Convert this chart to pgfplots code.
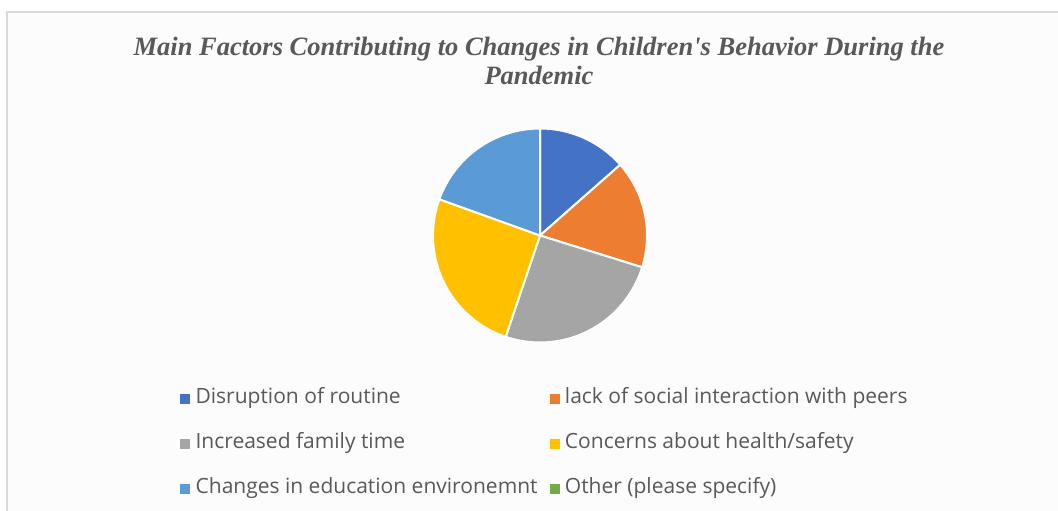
\documentclass[border=0pt]{standalone}
\usepackage{fontspec}
\setmainfont{Open Sans}
\newfontfamily\titlefont{Liberation Serif}
\usepackage{pgfplots}
\usepackage{pgfplotstable}
\pgfplotsset{compat=1.18}

\definecolor{txtgray}{HTML}{595959}
\definecolor{framegray}{HTML}{D9D9D9}
\definecolor{chartbg}{HTML}{FCFCFC}
\definecolor{slice0}{HTML}{4472C4}
\definecolor{slice1}{HTML}{ED7D31}
\definecolor{slice2}{HTML}{A5A5A5}
\definecolor{slice3}{HTML}{FFC000}
\definecolor{slice4}{HTML}{5B9BD5}
\definecolor{slice5}{HTML}{70AD47}

% share of responses (%) for each factor
\pgfplotstableread{
factor value
0 13.5
1 16.3
2 25.4
3 25.3
4 19.5
5 0
}\piedata

% cumulative start/end angles (clockwise from 12 o'clock)
\xdef\cum{0}
\pgfplotstableforeachcolumnelement{value}\of\piedata\as\val{%
  \pgfmathsetmacro\sa{90-3.6*\cum}%
  \pgfmathsetmacro\newcum{\cum+\val}%
  \pgfmathsetmacro\ea{90-3.6*\newcum}%
  \expandafter\xdef\csname startang\pgfplotstablerow\endcsname{\sa}%
  \expandafter\xdef\csname endang\pgfplotstablerow\endcsname{\ea}%
  \xdef\cum{\newcum}%
}

\pgfplotsset{
  square legend/.style={
    legend image code/.code={\fill[##1] (0bp,-4.5bp) rectangle (9bp,4.5bp);}
  }
}

\begin{document}
\begin{tikzpicture}[x=1bp,y=1bp]
\useasboundingbox (0,0) rectangle (1058,511);
\fill[white] (0,0) rectangle (1058,511);
\fill[chartbg] (7,0) rectangle (1058,499);
\draw[framegray, line width=1.6bp] (7,0) -- (7,499) -- (1058,499);

\node[anchor=base, text=txtgray, font=\titlefont\bfseries\itshape\fontsize{26.5bp}{28.5bp}\selectfont]
  at (539,455.5) {Main Factors Contributing to Changes in Children's Behavior During the};
\node[anchor=base, text=txtgray, font=\titlefont\bfseries\itshape\fontsize{26.5bp}{28.5bp}\selectfont]
  at (539,426) {Pandemic};

\begin{axis}[
  at={(540bp,275.5bp)}, anchor=center,
  x=107bp, y=107bp,
  xmin=-1, xmax=1, ymin=-1, ymax=1,
  hide axis,
  square legend,
  legend columns=2,
  legend cell align=left,
  legend style={
    at={(axis description cs:-1.1822,-0.2093)}, anchor=north west,
    draw=none, fill=none, inner sep=0pt,
    font=\fontsize{21bp}{25bp}\selectfont, text=txtgray,
    row sep=23bp,
    nodes={inner xsep=6bp, inner ysep=1bp, text height=15bp, text depth=5bp},
    /tikz/every even column/.append style={column sep=6bp},
  },
]
\pgfplotsinvokeforeach{0,...,5}{%
  \addlegendimage{slice#1}
}
\legend{Disruption of routine, lack of social interaction with peers,
  Increased family time, Concerns about health/safety,
  Changes in education environemnt, Other (please specify)}
\pgfplotsinvokeforeach{0,...,4}{%
  \filldraw[fill=slice#1, draw=white, line width=2bp, line join=round]
    (axis cs:0,0) -- ([shift={(\csname startang#1\endcsname:107bp)}]axis cs:0,0)
    arc[start angle=\csname startang#1\endcsname, end angle=\csname endang#1\endcsname, radius=107bp]
    -- cycle;
}
\end{axis}
\end{tikzpicture}
\end{document}
